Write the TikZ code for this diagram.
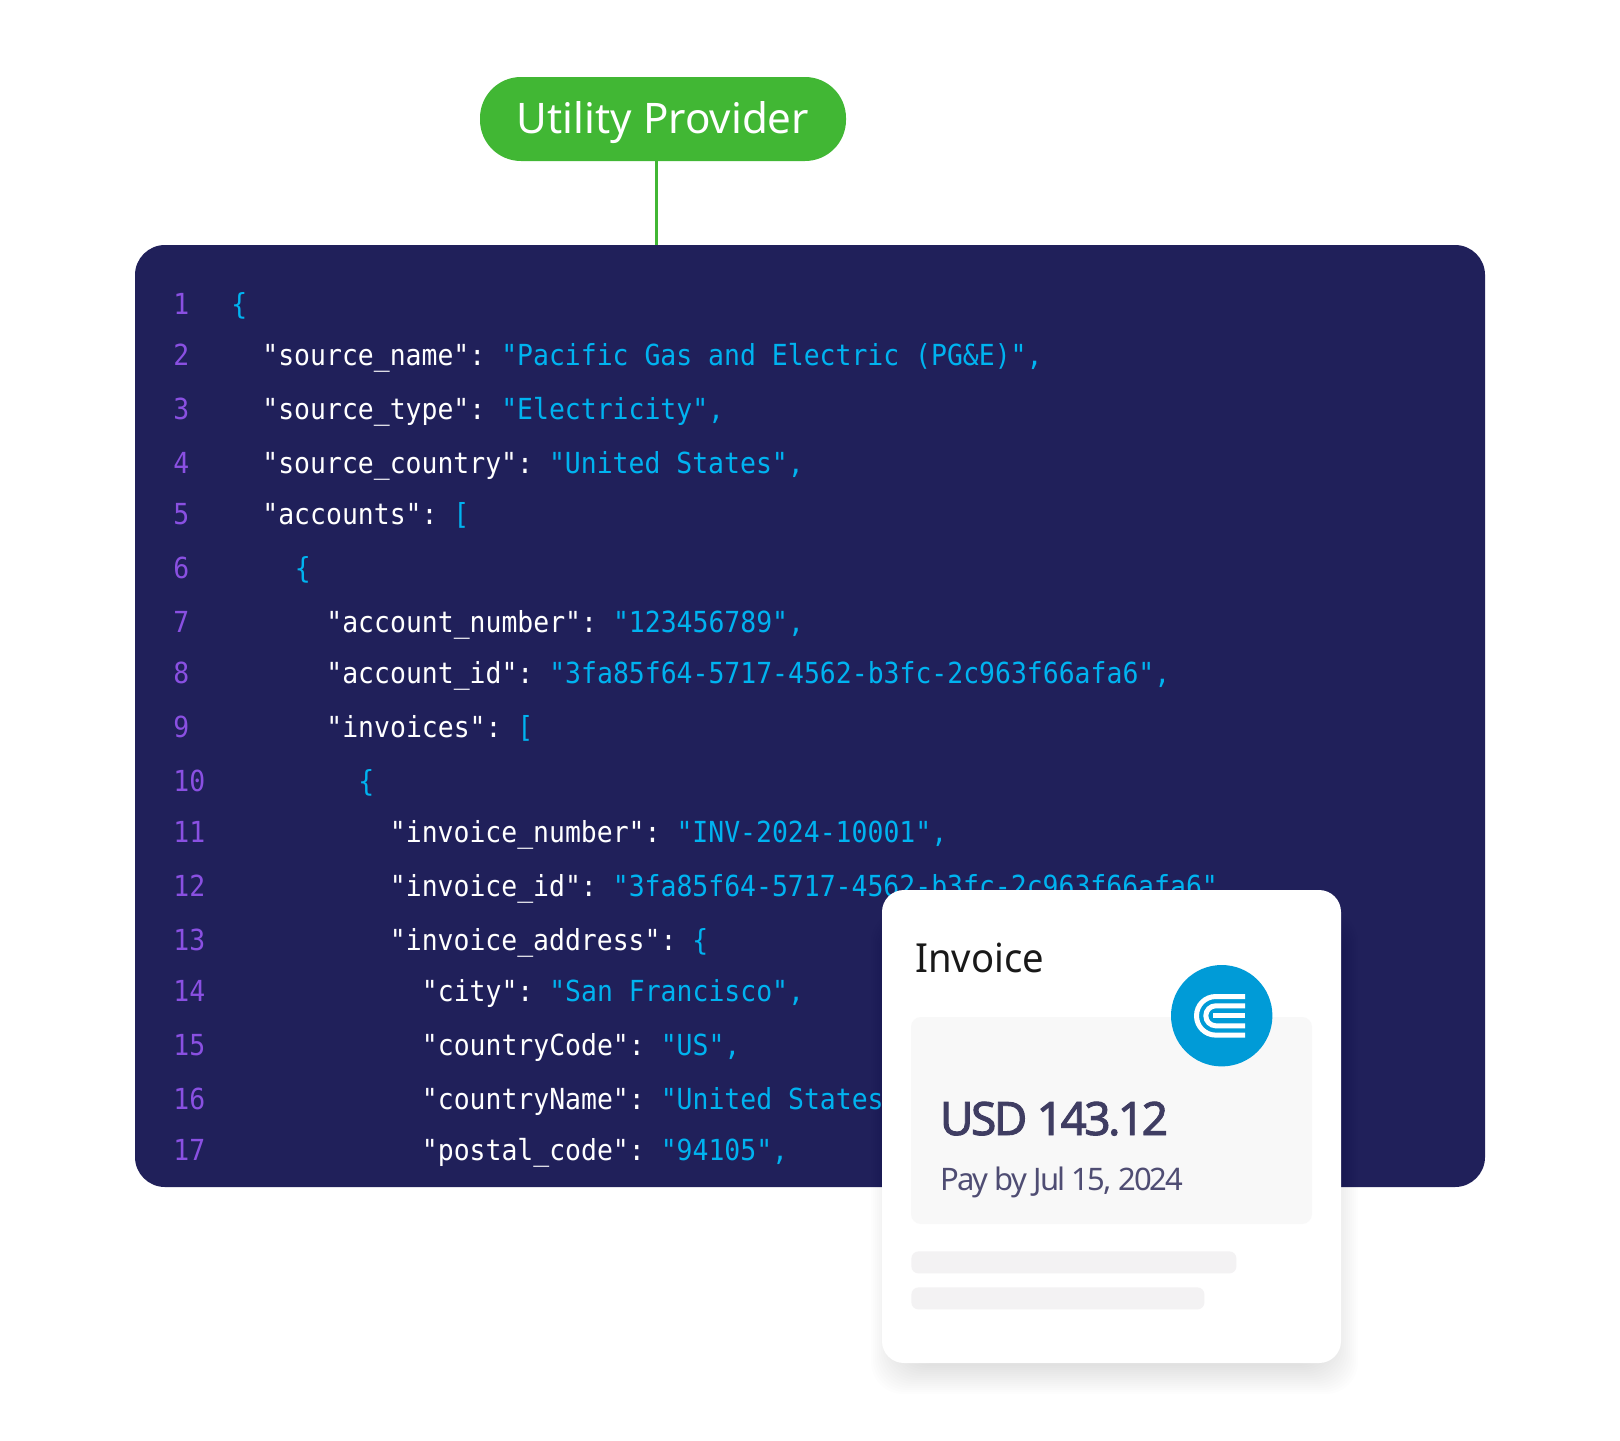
\documentclass[tikz,border=0pt]{standalone}
\usepackage{fontspec}
\usepackage{tikz}
\setmainfont{Noto Sans}
\newfontfamily\codefont[FakeStretch=0.912]{DejaVu Sans Mono}
\newfontfamily\titlefont[FakeStretch=0.955]{Noto Sans}
\newfontfamily\amountfont[FakeBold=2,LetterSpace=-5.5]{Noto Sans}
\newfontfamily\duefont[LetterSpace=-5.9]{Noto Sans}
\definecolor{panelblue}{HTML}{20205A}
\definecolor{pillgreen}{HTML}{41B734}
\definecolor{numpurple}{HTML}{8A50E2}
\definecolor{strblue}{HTML}{00B3F0}
\definecolor{logoblue}{HTML}{009BD7}
\definecolor{boxgrey}{HTML}{F8F8F8}
\definecolor{bargrey}{HTML}{F3F2F3}
\definecolor{amountink}{HTML}{3F3D62}
\definecolor{dateink}{HTML}{4F4D73}
\newcommand{\strtxt}[1]{\textcolor{strblue}{#1}}
\tikzset{
	numline/.style={anchor=base west,inner sep=0pt,text=numpurple,font=\codefont\fontsize{14.5}{14.5}\selectfont},
	codeline/.style={anchor=base west,inner sep=0pt,text=white,font=\codefont\fontsize{14.5}{14.5}\selectfont\frenchspacing},
	cardtext/.style={anchor=base west,inner sep=0pt},
	logoline/.style={draw=white,line width=2.5pt,line cap=butt}
}
\begin{document}
\begin{tikzpicture}[x=0.5pt,y=-0.5pt]
	\useasboundingbox (0,0) rectangle (1620,1440);

	\node[fill=pillgreen,rounded corners=20.5pt,minimum width=183pt,minimum height=42pt,inner sep=0pt] (pill) at (663,119) {};
	\node[anchor=base,inner sep=0pt,text=white,font=\fontsize{21.05}{22}\selectfont] (pilltext) at (663,133) {Utility Provider};
	\node[fill=panelblue,rounded corners=15pt,minimum width=675pt,minimum height=471pt,inner sep=0pt] (panel) at (810,716) {};
	\path [-,draw=pillgreen,line width=1.5pt] (pill.261.5) edge (pill.261.5 |- panel.north);

	\node[numline] (n1) at (173,314) {1};
	\node[numline] (n2) at (173,365) {2};
	\node[numline] (n3) at (173,419) {3};
	\node[numline] (n4) at (173,473) {4};
	\node[numline] (n5) at (173,524) {5};
	\node[numline] (n6) at (173,578) {6};
	\node[numline] (n7) at (173,632) {7};
	\node[numline] (n8) at (173,683) {8};
	\node[numline] (n9) at (173,737) {9};
	\node[numline] (n10) at (173,791) {10};
	\node[numline] (n11) at (173,842) {11};
	\node[numline] (n12) at (173,896) {12};
	\node[numline] (n13) at (173,950) {13};
	\node[numline] (n14) at (173,1001) {14};
	\node[numline] (n15) at (173,1055) {15};
	\node[numline] (n16) at (173,1109) {16};
	\node[numline] (n17) at (173,1160.5) {17};

	\node[codeline] (c1) at (231,314) {\strtxt{\{}};
	\node[codeline] (c2) at (262,365) {"source\_name": \strtxt{"Pacific Gas and Electric (PG\&E)",}};
	\node[codeline] (c3) at (262,419) {"source\_type": \strtxt{"Electricity",}};
	\node[codeline] (c4) at (262,473) {"source\_country": \strtxt{"United States",}};
	\node[codeline] (c5) at (262,524) {"accounts": \strtxt{[}};
	\node[codeline] (c6) at (294.5,578) {\strtxt{\{}};
	\node[codeline] (c7) at (326,632) {"account\_number": \strtxt{"123456789",}};
	\node[codeline] (c8) at (326,683) {"account\_id": \strtxt{"3fa85f64-5717-4562-b3fc-2c963f66afa6",}};
	\node[codeline] (c9) at (326,737) {"invoices": \strtxt{[}};
	\node[codeline] (c10) at (358,791) {\strtxt{\{}};
	\node[codeline] (c11) at (389.5,842) {"invoice\_number": \strtxt{"INV-2024-10001",}};
	\node[codeline] (c12) at (389.5,896) {"invoice\_id": \strtxt{"3fa85f64-5717-4562-b3fc-2c963f66afa6",}};
	\node[codeline] (c13) at (389.5,950) {"invoice\_address": \strtxt{\{}};
	\node[codeline] (c14) at (421.5,1001) {"city": \strtxt{"San Francisco",}};
	\node[codeline] (c15) at (421.5,1055) {"countryCode": \strtxt{"US",}};
	\node[codeline] (c16) at (421.5,1109) {"countryName": \strtxt{"United States",}};
	\node[codeline] (c17) at (421.5,1160.5) {"postal\_code": \strtxt{"94105",}};

	\foreach \g in {-20,-18,...,20}
		\fill[black,opacity=.007,rounded corners=16pt] (891-\g,930-\g) rectangle (1338+\g,1374+\g);

	\node[fill=white,rounded corners=11pt,minimum width=229.5pt,minimum height=236.5pt,inner sep=0pt] (card) at (1111.5,1126.5) {};
	\node[fill=boxgrey,rounded corners=5pt,minimum width=200.5pt,minimum height=103.5pt,inner sep=0pt] (box) at (1111.5,1120.5) {};
	\node[fill=bargrey,rounded corners=3.5pt,minimum width=162.5pt,minimum height=11pt,inner sep=0pt,anchor=north west] (bar1) at (911,1251) {};
	\node[fill=bargrey,rounded corners=3.5pt,minimum width=146.5pt,minimum height=11pt,inner sep=0pt,anchor=north west] (bar2) at (911,1287) {};

	\node[cardtext,text=black!90,font=\titlefont\fontsize{20}{20}\selectfont] (title) at (915,972) {Invoice};
	\node[cardtext,text=amountink,font=\amountfont\fontsize{23}{23}\selectfont] (amount) at (939.5,1135) {USD 143.12};
	\node[cardtext,text=dateink,font=\duefont\fontsize{15.5}{16}\selectfont] (due) at (940,1190) {Pay by Jul 15, 2024};

	\node[circle,fill=logoblue,minimum size=50.7pt,inner sep=0pt] (logo) at (1221.7,1015.7) {};
	\draw[logoline,rounded corners=9.6pt] (1245,996.5) -- (1196.5,996.5) -- (1196.5,1035.1) -- (1245,1035.1);
	\draw[logoline,rounded corners=5pt] (1245,1005.8) -- (1205.8,1005.8) -- (1205.8,1025.8) -- (1245,1025.8);
	\draw[logoline] (1213,1015.8) -- (1245,1015.8);
\end{tikzpicture}
\end{document}
